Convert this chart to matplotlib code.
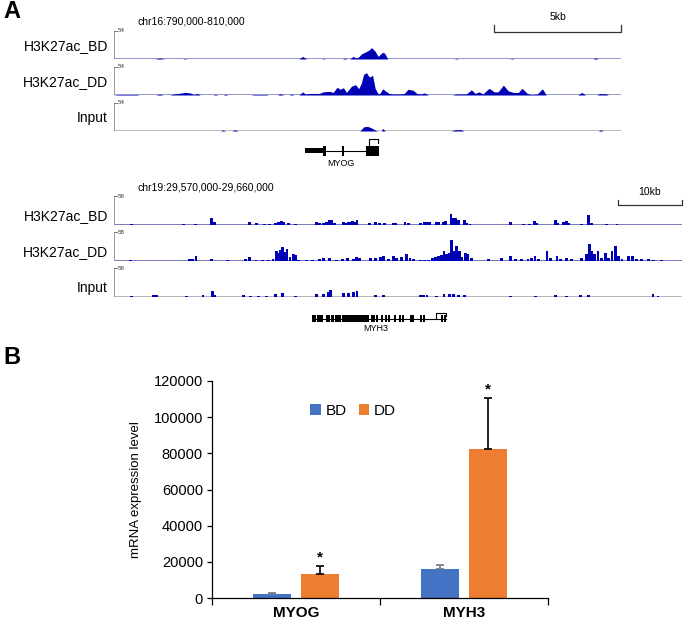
import numpy as np
import matplotlib
matplotlib.use("Agg")
import matplotlib.pyplot as plt

plt.rcParams['font.family'] = ['Liberation Sans', 'DejaVu Sans']

W, H = 685, 621
FILL = '#0000b4'

# ---- panel A data: coverage (kb from region start, signal) ----
CHR16_SPAN = 20.0
CHR16_MAX = 54
BD_CHR16 = [(0, 0), (1.6, 0), (1.8, 2), (2.0, 0), (2.7, 0), (2.8, 1), (2.9, 0),
            (7.3, 0), (7.44, 5), (7.6, 0), (8.2, 0), (8.26, 1), (8.35, 0),
            (9.0, 0), (9.1, 1.5), (9.2, 0), (9.3, 0), (9.43, 5), (9.55, 2), (9.65, 4),
            (9.77, 10), (9.9, 13), (10.05, 17), (10.16, 22), (10.3, 15), (10.42, 5),
            (10.5, 9), (10.6, 13), (10.68, 11), (10.8, 0),
            (13.4, 0), (13.5, 1), (13.6, 0), (15.6, 0), (15.7, 1), (15.8, 0),
            (18.9, 0), (19.0, 2.5), (19.1, 0), (20, 0)]
DD_CHR16 = [(0, 0), (0.1, 1), (0.9, 1), (1.0, 0), (1.65, 0), (1.8, 2), (1.95, 0),
            (2.2, 0), (2.35, 2), (2.55, 3), (2.8, 5), (3.0, 4), (3.15, 1), (3.3, 3), (3.4, 0),
            (3.9, 0), (4.0, 1.5), (4.1, 0), (4.3, 0), (4.4, 1.5), (4.5, 0),
            (5.4, 0), (5.5, 1), (6.0, 1), (6.1, 0), (6.45, 0), (6.55, 2.5), (6.7, 0),
            (6.9, 0), (7.0, 1.5), (7.1, 0),
            (7.3, 0), (7.44, 6), (7.55, 2), (7.7, 3), (8.1, 3), (8.25, 6), (8.5, 7),
            (8.65, 5), (8.8, 15), (8.92, 11), (9.05, 14), (9.17, 5), (9.37, 17),
            (9.53, 20), (9.65, 12), (9.75, 22), (9.85, 40), (9.96, 43), (10.05, 36),
            (10.1, 35), (10.2, 38), (10.3, 13), (10.42, 2), (10.5, 4), (10.6, 12),
            (10.7, 8), (10.85, 3), (11.0, 2), (11.3, 2), (11.45, 3), (11.6, 11),
            (11.8, 9), (11.95, 3), (12.1, 2), (12.25, 4), (12.4, 0),
            (13.35, 0), (13.5, 2), (13.9, 2), (14.1, 10), (14.25, 3), (14.4, 6),
            (14.55, 2), (14.8, 13), (15.0, 6), (15.15, 6), (15.36, 19), (15.55, 8),
            (15.75, 5), (15.95, 5), (16.1, 13), (16.3, 3), (16.45, 1), (16.7, 2),
            (16.9, 12), (17.05, 0), (18.3, 0), (18.45, 5), (18.6, 0),
            (19.05, 0), (19.15, 2.5), (19.4, 2.5), (19.5, 0), (20, 0)]
INPUT_CHR16 = [(0, 0), (4.2, 0), (4.3, 2), (4.4, 0), (4.65, 0), (4.77, 2.5), (4.9, 0),
               (9.7, 0), (9.85, 8), (10.0, 9), (10.15, 6), (10.3, 2), (10.4, 0),
               (10.55, 0), (10.6, 5), (10.7, 0), (13.3, 0), (13.45, 2.5), (13.7, 2.5),
               (13.8, 0), (19.1, 0), (19.2, 2.5), (19.3, 0), (20, 0)]

CHR19_SPAN = 90.0
CHR19_MAX = 58
BD_CHR19 = [(2.8, 2), (6.8, 1), (11.0, 2), (12.9, 2), (15.5, 14), (15.9, 7), (17.6, 1),
            (21.5, 7), (22.6, 3.5), (23.8, 2), (24.7, 2), (25.6, 4), (26.0, 5.5), (26.5, 8),
            (26.9, 7), (27.6, 3.5), (28.7, 3), (30.5, 1), (32.1, 7), (32.5, 4), (33.2, 4),
            (33.7, 5.5), (34.1, 10), (34.5, 11), (34.9, 5), (36.3, 7), (36.7, 5), (37.1, 7),
            (37.5, 6), (37.8, 8), (38.2, 7), (38.5, 10), (40.5, 3.5), (41.4, 5.5), (42.1, 4),
            (42.8, 4), (44.3, 3.5), (44.6, 5), (46.1, 5.5), (46.6, 3.5), (48.5, 4), (49.2, 7),
            (49.6, 5.5), (50.0, 7), (51.1, 5.5), (51.4, 7), (52.2, 5.5), (52.5, 8), (53.4, 22),
            (53.8, 14), (54.2, 14), (54.6, 10), (55.5, 11), (55.9, 5), (56.4, 1.5), (59.8, 1),
            (62.8, 5.5), (64.9, 1.5), (65.9, 3), (66.6, 8), (67.0, 4), (69.9, 10), (70.3, 4),
            (71.2, 5.5), (71.7, 8), (72.1, 4), (74.1, 3), (75.2, 20), (75.6, 4), (78.1, 2),
            (79.7, 1.5), (81.8, 1), (85.4, 1)]
DD_CHR19 = [(2.6, 2), (5, 1), (8, 1), (10, 1), (12.0, 4), (12.5, 4), (13.0, 10), (15.5, 3.5),
            (18, 1.5), (20.8, 4), (21.5, 8), (22.5, 2), (23.5, 2), (24.5, 2), (25.2, 3.5),
            (25.7, 21), (26.05, 17), (26.4, 22), (26.7, 28), (27.05, 19), (27.4, 24), (27.9, 8),
            (28.4, 14), (28.8, 12), (29.3, 3), (30.5, 3), (31.5, 3), (32.5, 3.5), (33.2, 7),
            (34.2, 5.5), (35.2, 3), (36.2, 3.5), (37.0, 5.5), (38.0, 4), (38.4, 8), (38.9, 6),
            (40.6, 7), (41.4, 7), (42.2, 8), (42.7, 10), (43.5, 4), (44.3, 11), (44.8, 7),
            (45.6, 8), (46.4, 14), (46.9, 7), (47.4, 4), (48.5, 3), (49.2, 3), (49.8, 3),
            (50.4, 5.5), (50.9, 8), (51.4, 10), (51.9, 12), (52.3, 21), (52.7, 14), (53.1, 17),
            (53.5, 43), (53.9, 21), (54.3, 31), (54.7, 21), (55.1, 8), (55.7, 17), (56.1, 14),
            (56.7, 5.5), (59.3, 3.5), (61.4, 5.5), (62.8, 10), (63.6, 3.5), (64.6, 3.5),
            (65.6, 3.5), (66.2, 7), (66.7, 10), (67.3, 5), (68.6, 21), (69.1, 7), (70.2, 10),
            (70.7, 4), (71.7, 7), (72.5, 3.5), (74.1, 5.5), (74.9, 14), (75.3, 35), (75.7, 21),
            (76.2, 15), (76.7, 21), (77.2, 6), (77.9, 17), (78.3, 7), (78.9, 21), (79.4, 31),
            (79.9, 10), (80.5, 4), (81.5, 10), (82.1, 10), (82.8, 4), (83.6, 3.5), (84.7, 3.5),
            (85.5, 3), (86.8, 1.5)]
INPUT_CHR19 = [(2.8, 2), (6.3, 3.5), (6.8, 3.5), (11.5, 1.5), (14.1, 4), (15.6, 12), (16.0, 5),
               (20.5, 4), (21.6, 2), (22.9, 2), (24.2, 1.5), (25.6, 7), (26.7, 8), (28.7, 2.5),
               (32.1, 5.5), (33.2, 5.5), (34.0, 10), (34.3, 14), (36.3, 8), (37.1, 8), (37.9, 10),
               (38.5, 12), (41.4, 3.5), (42.7, 3.5), (48.5, 4), (49.0, 4), (49.6, 4), (51.1, 3),
               (52.3, 7), (53.2, 5.5), (53.8, 7), (54.6, 5), (55.6, 3.5), (62.8, 2), (66.8, 2),
               (69.9, 4), (71.7, 3), (73.9, 3.5), (75.2, 3.5), (85.4, 5.5), (86.2, 3)]

TRACK_NAMES = ['H3K27ac_BD', 'H3K27ac_DD', 'Input']

# gene models (kb)
MYOG_UTR = [(7.53, 8.24)]
MYOG_CDS = [(8.24, 8.36), (9.0, 9.06), (9.94, 10.45)]
MYOG_LINE = (8.36, 9.94)
MYOG_TSS = (10.07, 10.41)
MYH3_LINE = (31.5, 52.6)
MYH3_EXONS = [31.58, 31.85, 32.38, 32.65, 32.96, 33.71, 34.03, 34.5, 34.75, 35.18, 35.55,
              35.82, 36.34, 36.66, 36.97, 37.29, 37.67, 37.92, 38.46, 38.72, 39.1, 39.51,
              39.94, 40.3, 40.84, 41.2, 41.73, 42.42, 43.1, 43.63, 44.53, 45.32, 45.75,
              47.02, 47.43, 48.6, 49.13, 51.93, 52.46]
MYH3_WIDE = [37.29, 37.67, 37.92, 38.46, 38.72, 39.1, 39.51]
MYH3_TSS = (51.1, 52.6)

# ---- panel B data ----
GENES = ['MYOG', 'MYH3']
BD_MEAN = [2050, 15900]
BD_ERR = [550, 2400]
DD_MEAN = [13100, 82200]
DD_ERR = [4600, 28400]


fig = plt.figure(figsize=(W / 100, H / 100), dpi=100)


def px_axes(x0, y0, x1, y1):
    return fig.add_axes([x0 / W, 1 - y1 / H, (x1 - x0) / W, (y1 - y0) / H])


def draw_track(ax, data, span, ymax, mode, base_color):
    kb, val = np.array(data, dtype=float).T
    ax.set_xlim(0, span)
    ax.set_ylim(0, ymax)
    ax.axis('off')
    ax.plot([0, span], [0, 0], color=base_color, lw=1.1, solid_capstyle='butt', zorder=1)
    if mode == 'area':
        ax.fill_between(kb, val, color=FILL, lw=0, zorder=2)
    else:
        ax.bar(kb, val, width=0.45, color=FILL, lw=0, zorder=2)
    ax.plot([0, 0], [0, ymax], color='#9a9a9a', lw=0.7)
    ax.plot([0, span * 0.005], [ymax, ymax], color='#777777', lw=0.7)
    ax.annotate(str(ymax), xy=(0, ymax), xytext=(2.5, 0), textcoords='offset points',
                fontsize=4.5, va='center', ha='left', color='#333333')


def scale_bar(ax, start, end, label, y_bar, y_tick):
    ax.plot([start, start, end, end], [y_tick, y_bar, y_bar, y_tick],
            color='#333333', lw=0.9, clip_on=False)
    ax.annotate(label, xy=((start + end) / 2, y_tick), xytext=(0, 2.5),
                textcoords='offset points', ha='center', va='bottom', fontsize=7.5,
                annotation_clip=False)


fig.text(3 / W, 1 - 12 / H, 'A', fontsize=17, fontweight='bold', va='center')
fig.text(3 / W, 1 - 358 / H, 'B', fontsize=17, fontweight='bold', va='center')

# chr16 tracks
fig.text(138 / W, 1 - 21 / H, 'chr16:790,000-810,000', fontsize=7.5, va='center')
tops16 = [31, 67, 103]
for name, data, top, bc in zip(TRACK_NAMES, [BD_CHR16, DD_CHR16, INPUT_CHR16], tops16,
                               ['#7777c4', '#7777c4', '#a8a8a8']):
    ax = px_axes(114, top, 621, top + 28)
    draw_track(ax, data, CHR16_SPAN, CHR16_MAX, 'area', bc)
    fig.text(108 / W, 1 - (top + 15) / H, name, fontsize=10, ha='right', va='center')
    if top == tops16[0]:
        scale_bar(ax, 15, 20, '5kb', CHR16_MAX * 0.98, CHR16_MAX * 1.2)

# MYOG gene model
g1 = px_axes(114, 135.5, 621, 165.5)
g1.set_xlim(0, CHR16_SPAN)
g1.set_ylim(-1.5, 1.5)
g1.axis('off')
g1.plot(MYOG_LINE, [0, 0], color='black', lw=0.8)
for s, e in MYOG_UTR:
    g1.add_patch(plt.Rectangle((s, -0.28), e - s, 0.56, color='black', lw=0))
for s, e in MYOG_CDS:
    g1.add_patch(plt.Rectangle((s, -0.5), e - s, 1.0, color='black', lw=0))
g1.plot([MYOG_TSS[0], MYOG_TSS[0], MYOG_TSS[1], MYOG_TSS[1]], [0.5, 1.15, 1.15, 0.8],
        color='black', lw=0.8, clip_on=False)
g1.text(8.95, -1.25, 'MYOG', fontsize=6.5, ha='center', va='center', clip_on=False)

# chr19 tracks
fig.text(138 / W, 1 - 187 / H, 'chr19:29,570,000-29,660,000', fontsize=7.5, va='center')
tops19 = [196, 232, 268]
for name, data, top, bc in zip(TRACK_NAMES, [BD_CHR19, DD_CHR19, INPUT_CHR19], tops19,
                               ['#5555aa', '#5555aa', '#a0a0a0']):
    ax = px_axes(114, top, 682, top + 29)
    draw_track(ax, data, CHR19_SPAN, CHR19_MAX, 'bar', bc)
    fig.text(108 / W, 1 - (top + 20) / H, name, fontsize=10, ha='right', va='center')
    if top == tops19[0]:
        scale_bar(ax, 79.8, 90, '10kb', CHR19_MAX * 0.68, CHR19_MAX * 0.86)

# MYH3 gene model
g2 = px_axes(114, 303.5, 682, 333.5)
g2.set_xlim(0, CHR19_SPAN)
g2.set_ylim(-1.5, 1.5)
g2.axis('off')
g2.plot(MYH3_LINE, [0, 0], color='black', lw=0.8)
for x in MYH3_EXONS:
    w = 0.45 if x in MYH3_WIDE else 0.28
    g2.add_patch(plt.Rectangle((x - w / 2, -0.35), w, 0.7, color='black', lw=0))
g2.plot([MYH3_TSS[0], MYH3_TSS[0], MYH3_TSS[1], MYH3_TSS[1]], [0, 0.55, 0.55, 0.3],
        color='black', lw=0.8, clip_on=False)
g2.text(41.5, -1.0, 'MYH3', fontsize=6.5, ha='center', va='center', clip_on=False)

# ---- panel B ----
ax = px_axes(212, 381, 548, 598)
centers = np.arange(len(GENES)) + 0.5
off, bw = 0.143, 0.226
ax.bar(centers - off, BD_MEAN, bw, color='#4472c4', label='BD', zorder=2)
ax.bar(centers + off, DD_MEAN, bw, color='#ed7d31', label='DD', zorder=2)
ax.errorbar(centers - off, BD_MEAN, yerr=[np.zeros(2), BD_ERR], fmt='none',
            ecolor='#6b7686', elinewidth=1.2, capsize=3, capthick=1.2, zorder=3)
ax.errorbar(centers + off, DD_MEAN, yerr=[np.zeros(2), DD_ERR], fmt='none',
            ecolor='black', elinewidth=1.2, capsize=3, capthick=1.2, zorder=3)
for c, m, e in zip(centers, DD_MEAN, DD_ERR):
    ax.annotate('*', xy=(c + off, m + e), xytext=(0, 1), textcoords='offset points',
                ha='center', va='bottom', fontsize=11, fontweight='bold')

ax.set_xlim(0, 2)
ax.set_ylim(0, 120000)
ax.set_yticks(np.arange(0, 120001, 20000))
ax.tick_params(axis='y', labelsize=10.5, length=3.5, width=0.9, pad=3)
ax.set_xticks([0, 1, 2])
ax.set_xticklabels([])
ax.set_xticks(centers, minor=True)
ax.set_xticklabels(GENES, minor=True, fontsize=11, fontweight='bold')
ax.tick_params(axis='x', which='major', length=5, width=0.9)
ax.tick_params(axis='x', which='minor', length=0, pad=6)
for side in ['top', 'right']:
    ax.spines[side].set_visible(False)
ax.spines['left'].set_linewidth(0.9)
ax.spines['bottom'].set_linewidth(0.9)
ax.set_ylabel('mRNA expression level', fontsize=9.5, labelpad=8)
ax.legend(loc='center', bbox_to_anchor=(0.42, 0.862), ncol=2, frameon=False,
          fontsize=11, handlelength=0.7, handleheight=0.7, handletextpad=0.3,
          columnspacing=0.8)

fig.savefig('out.png', dpi=100)
